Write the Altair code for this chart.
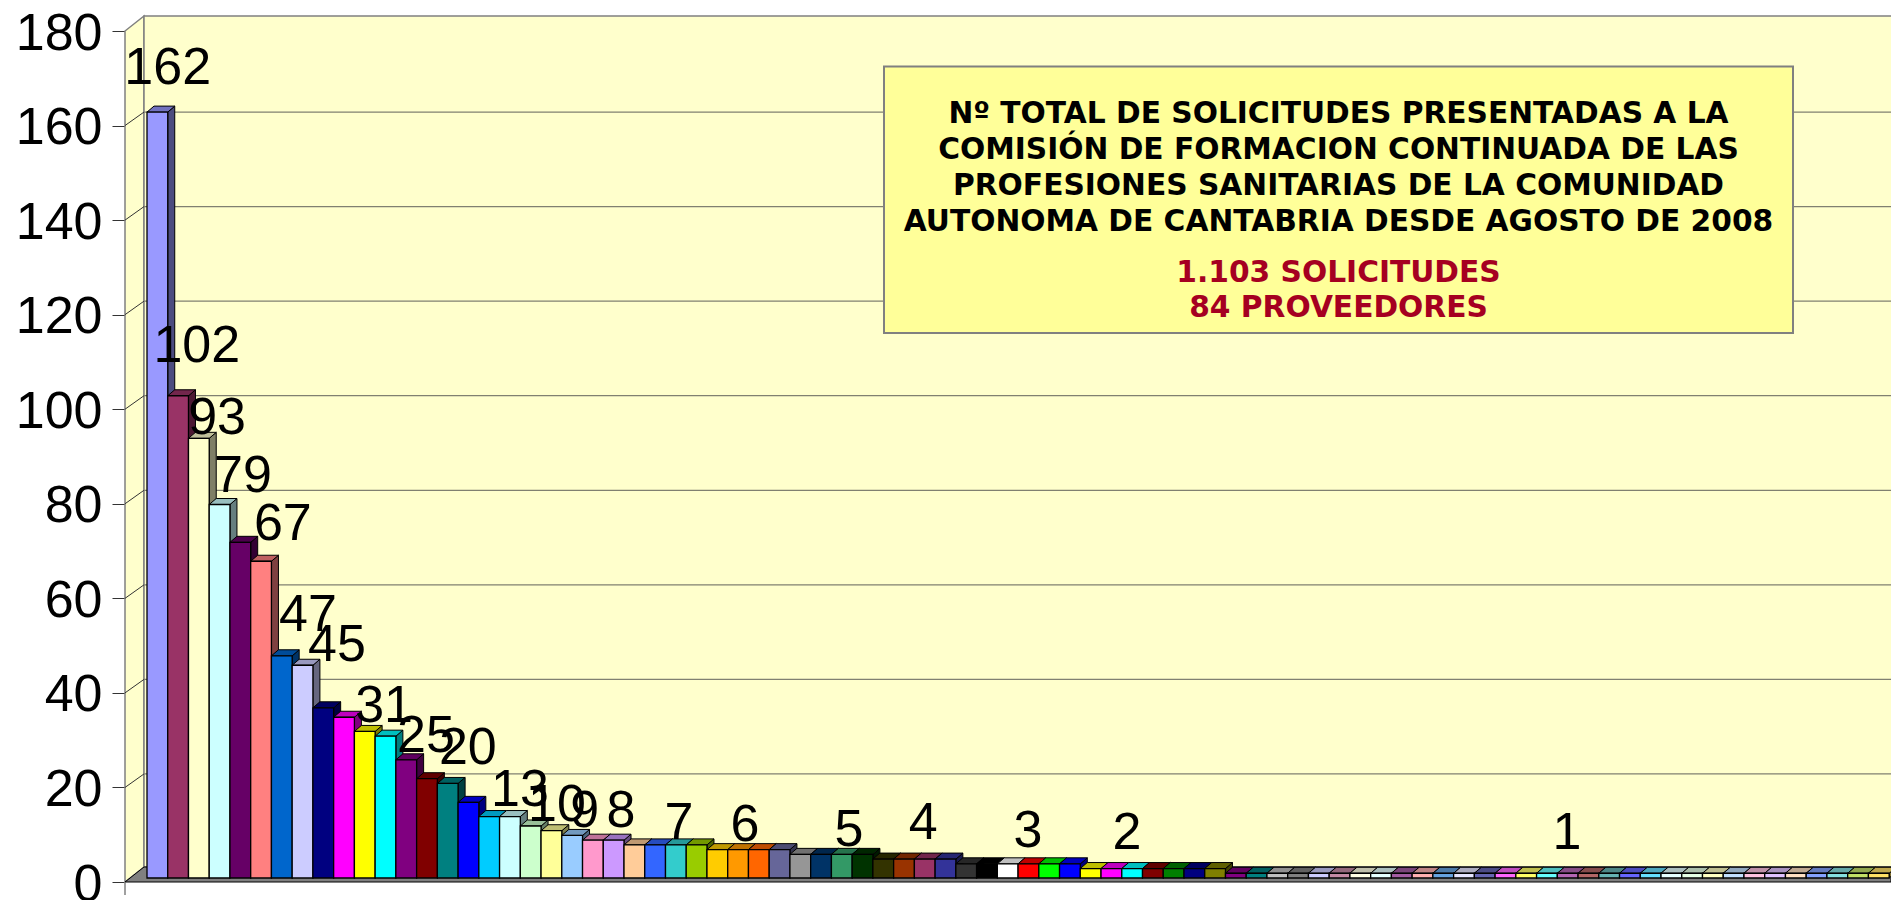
import altair as alt
import pandas as pd

values = [162,102,93,79,71,67,47,45,36,34,31,30,25,21,20,16,13,13,11,10,9,8,8,
          7,7,7,7,6,6,6,6,5,5,5,5,4,4,4,4,3,3,3,3,3,3,2,2,2,2,2,2,2] + [1]*32
colors = ["#9999FF","#993366","#FFFFCC","#CCFFFF","#660066","#FF8080","#0066CC","#CCCCFF",
          "#000080","#FF00FF","#FFFF00","#00FFFF","#800080","#800000","#008080","#0000FF",
          "#00CCFF","#CCFFFF","#CCFFCC","#FFFF99","#99CCFF","#FF99CC","#CC99FF","#FFCC99",
          "#3366FF","#33CCCC","#99CC00","#FFCC00","#FF9900","#FF6600","#666699","#969696",
          "#003366","#339966","#003300","#333300","#993300","#993366","#333399","#333333",
          "#000000","#FFFFFF","#FF0000","#00FF00","#0000FF","#FFFF00","#FF00FF","#00FFFF",
          "#800000","#008000","#000080","#808000","#800080","#008080","#C0C0C0","#808080",
          "#CCCCFF","#C48AA4","#FFFFE5","#E5FFFF","#A35DA3","#FFB0B0","#66A3E0","#E5E5FF",
          "#6666B3","#FF66FF","#FFFF66","#66FFFF","#B366B3","#B36666","#66B3B3","#6666FF",
          "#66E0FF","#E5FFFF","#E5FFE5","#FFFFC2","#C2E0FF","#FFC2E0","#E0C2FF","#FFE0C2",
          "#85A3FF","#85E0E0","#C2E066","#FFE066"]
label_text = [162,102,93,79,67,47,45,31,25,20,13,10,9,8,7,6,5,4,3,2,1]
label_x = [1.0,2.4,3.38,4.63,6.55,7.76,9.16,11.43,13.45,15.47,17.98,19.77,21.1,22.85,
           25.65,28.83,33.85,37.42,42.48,47.25,68.47]
label_y = [172.2,113.4,98.1,85.9,75.7,56.5,50.1,37.2,30.9,28.3,19.5,16.3,15.0,15.0,
           12.5,12.1,11.0,12.5,10.8,10.4,10.4]
y_ticks = list(range(0, 181, 20))
title_lines = ["Nº TOTAL DE SOLICITUDES PRESENTADAS A LA",
               "COMISIÓN DE FORMACION CONTINUADA DE LAS",
               "PROFESIONES SANITARIAS DE LA COMUNIDAD",
               "AUTONOMA DE CANTABRIA DESDE AGOSTO DE 2008"]
total_lines = ["1.103 SOLICITUDES", "84 PROVEEDORES"]

PX_X, PX_Y = 20.74, 851 / 180
PLOT_W = 1766                        # widest the page shows without shrinking the chart
X0, X1 = -22 / PX_X, (PLOT_W - 22) / PX_X
WDX, WDY = 19 / PX_X, 15 / PX_Y      # wall depth
GRID_DY = 13.5 / PX_Y                # gridline rise on the back wall
BDX, BDY = 7 / PX_X, 6 / PX_Y        # bar depth
BASE = 4 / PX_Y                      # bars stand slightly behind the floor's front edge
FONT = "Liberation Sans"


def shade(hex_color, f):
    return "#" + "".join(f"{int(int(hex_color[i:i+2], 16) * f):02X}" for i in (1, 3, 5))


X = alt.X("x:Q", scale=alt.Scale(domain=[X0, X1], nice=False, zero=False), axis=None)
Y = alt.Y("y:Q", scale=alt.Scale(domain=[0, 180], nice=False, zero=False), title=None,
          axis=alt.Axis(values=y_ticks, labelFont=FONT, labelFontSize=52, labelColor="black",
                        tickSize=13, tickColor="#333333", domainColor="#333333", grid=False,
                        labelPadding=10, labelOffset=2, labelOverlap=False, labelFlush=False))
fill = alt.Fill("c:N", scale=None, legend=None)

shown = list(zip(values, colors))
front = pd.DataFrame([{"x": i, "x2": i + 1, "y": BASE, "y2": v + BASE, "c": c}
                      for i, (v, c) in enumerate(shown)])
side = pd.DataFrame([r for i, (v, c) in enumerate(shown) for r in (
    {"i": i, "x": i + 1, "y": BASE, "y2": v + BASE, "c": shade(c, .5)},
    {"i": i, "x": i + 1 + BDX, "y": BASE + BDY, "y2": v + BASE + BDY, "c": shade(c, .5)})])
top = pd.DataFrame([r for i, (v, c) in enumerate(shown) for r in (
    {"i": i, "x": i, "x2": i + 1, "y": v + BASE, "c": shade(c, .75)},
    {"i": i, "x": i + BDX, "x2": i + 1 + BDX, "y": v + BASE + BDY, "c": shade(c, .75)})])

left_wall = pd.DataFrame([{"x": X0, "y": 0, "y2": 180}, {"x": X0 + WDX, "y": WDY, "y2": 180 + WDY}])
back_wall = pd.DataFrame([{"x": X0 + WDX, "x2": X1 + 1, "y": WDY, "y2": 180 + WDY}])
floor = pd.DataFrame([{"x": X0, "x2": X1, "y": 0}, {"x": X0 + WDX, "x2": X1, "y": WDY}])
grid = pd.DataFrame([{"x": X0 + WDX, "x2": X1, "y": t + GRID_DY} for t in y_ticks[1:-1]])
diag = pd.DataFrame([r for t in y_ticks[1:-1] for r in (
    {"t": t, "x": X0, "y": t}, {"t": t, "x": X0 + WDX, "y": t + GRID_DY})])

layers = [
    alt.Chart(left_wall).mark_area(fill="#FFFFCC", stroke="#808080", strokeWidth=1.5).encode(
        x=X, y=Y, y2="y2:Q"),
    alt.Chart(back_wall).mark_rect(fill="#FFFFCC", stroke="#808080", strokeWidth=1.5).encode(
        x=X, x2="x2:Q", y=Y, y2="y2:Q"),
    alt.Chart(floor).mark_area(orient="horizontal", fill="#808080", stroke="#000000", strokeWidth=1).encode(
        x=X, x2="x2:Q", y=Y),
    alt.Chart(grid).mark_rule(color="#808070", strokeWidth=1.2).encode(x=X, x2="x2:Q", y=Y),
    alt.Chart(diag).mark_line(color="#333333", strokeWidth=1).encode(x=X, y=Y, detail="t:N"),
    alt.Chart(pd.DataFrame([{"x": X0, "y": 0, "y2": -13 / PX_Y}])).mark_rule(
        color="#808080", strokeWidth=1.5).encode(x=X, y=Y, y2="y2:Q"),
    alt.Chart(side).mark_area(stroke="black", strokeWidth=1).encode(
        x=X, y=Y, y2="y2:Q", fill=fill, detail="i:N"),
    alt.Chart(top).mark_area(orient="horizontal", stroke="black", strokeWidth=1).encode(
        x=X, x2="x2:Q", y=Y, fill=fill, detail="i:N"),
    alt.Chart(front).mark_rect(stroke="black", strokeWidth=1.3).encode(
        x=X, x2="x2:Q", y=Y, y2="y2:Q", fill=fill),
]

box_l, box_r = (884 - 147) / PX_X, (1793 - 147) / PX_X
box_t, box_b = (882 - 66.5) / PX_Y, (882 - 333) / PX_Y
box_cx = (box_l + box_r) / 2
layers.append(alt.Chart(pd.DataFrame([{"x": box_l, "x2": box_r, "y": box_b, "y2": box_t}])).mark_rect(
    fill="#FFFF99", stroke="#808080", strokeWidth=2).encode(x=X, x2="x2:Q", y=Y, y2="y2:Q"))
title_df = pd.DataFrame({"t": title_lines, "x": box_cx,
                         "y": [(882 - p) / PX_Y for p in (113.5, 149.5, 185.5, 221.5)]})
total_df = pd.DataFrame({"t": total_lines, "x": box_cx,
                         "y": [(882 - p) / PX_Y for p in (273, 308)]})
layers.append(alt.Chart(title_df).mark_text(font="DejaVu Sans", fontWeight="bold", fontSize=29.7,
                                            color="black").encode(x=X, y=Y, text="t:N"))
layers.append(alt.Chart(total_df).mark_text(font="DejaVu Sans", fontWeight="bold", fontSize=29.7,
                                            color="#A50021").encode(x=X, y=Y, text="t:N"))
labels = pd.DataFrame({"x": label_x, "y": label_y, "t": label_text})
layers.append(alt.Chart(labels).mark_text(font=FONT, fontSize=52, color="black").encode(
    x=X, y=Y, text="t:Q"))

chart = alt.layer(*layers).properties(
    width=PLOT_W, height=851, background="white",
    autosize=alt.AutoSizeParams(type="none"),
    padding={"left": 117, "top": 23, "right": 0, "bottom": 20},
).configure_view(stroke=None)

chart.save("out.html", embed_options={"renderer": "svg", "actions": False})
